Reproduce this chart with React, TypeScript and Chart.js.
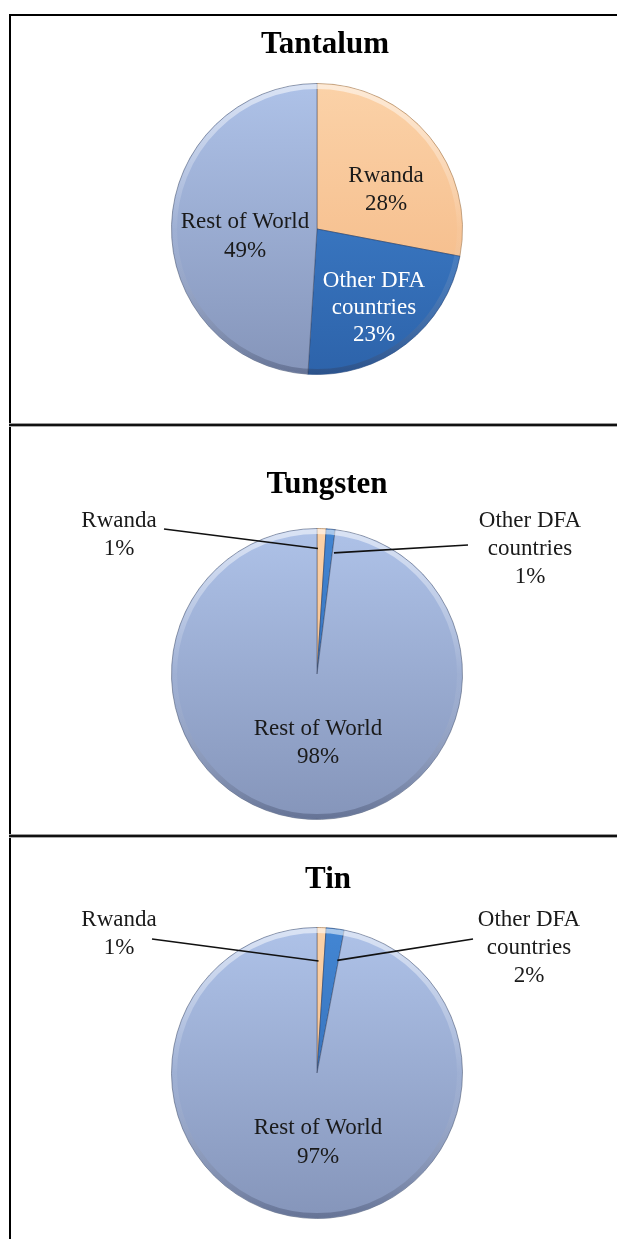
import React, { useEffect, useRef } from 'react';
import { Chart, registerables } from 'chart.js';

Chart.register(...registerables);

// ---- data ----
const CATEGORIES = ['Rwanda', 'Other DFA countries', 'Rest of World'];
const CATEGORY_LINES = [['Rwanda'], ['Other DFA', 'countries'], ['Rest of World']];
const TITLES = ['Tantalum', 'Tungsten', 'Tin'];
const TANTALUM = [28, 23, 49];
const TUNGSTEN = [1, 1, 98];
const TIN = [1, 2, 97];

// ---- styles ----
const FILL_STOPS = [
  ['#FBD2A8', '#F3B47F'],
  ['#4386D3', '#2D63AA'],
  ['#AEC2E8', '#8595BA'],
];
const BORDER_COLORS = ['rgba(150,110,70,0.55)', 'rgba(30,60,110,0.6)', 'rgba(70,82,110,0.55)'];
const TEXT_DARK = '#1a1a1a';
const TITLE_FONT = 'bold 31px "Liberation Serif"';
const LABEL_FONT = '23px "Liberation Serif"';
const W = 617;

type LabelCfg = {
  dx: number; dy: number; lh: number; color: string;
  leader?: { sx: number; sy: number; f: number; edx: number };
};

const PANELS = [
  {
    title: TITLES[0], values: TANTALUM, top: 0, height: 425, padTop: 83, padLeft: 171, padRight: 154,
    titleX: 325, titleBaseline: 53,
    labels: [
      { dx: 69, dy: -47, lh: 28, color: TEXT_DARK },
      { dx: 57, dy: 58, lh: 27, color: '#ffffff' },
      { dx: -72, dy: -1, lh: 29, color: TEXT_DARK },
    ] as LabelCfg[],
  },
  {
    title: TITLES[1], values: TUNGSTEN, top: 425, height: 410, padTop: 103, padLeft: 171, padRight: 154,
    titleX: 327, titleBaseline: 493,
    labels: [
      { dx: -198, dy: -147, lh: 28, color: TEXT_DARK, leader: { sx: -153, sy: -145, f: 0.863, edx: -3 } },
      { dx: 213, dy: -147, lh: 28, color: TEXT_DARK, leader: { sx: 151, sy: -129, f: 0.836, edx: 5.5 } },
      { dx: 1, dy: 61, lh: 28, color: TEXT_DARK },
    ] as LabelCfg[],
  },
  {
    title: TITLES[2], values: TIN, top: 835, height: 404, padTop: 92, padLeft: 171, padRight: 154,
    titleX: 328, titleBaseline: 888,
    labels: [
      { dx: -198, dy: -147, lh: 28, color: TEXT_DARK, leader: { sx: -165, sy: -134, f: 0.77, edx: -2 } },
      { dx: 212, dy: -147, lh: 28, color: TEXT_DARK, leader: { sx: 156, sy: -134, f: 0.78, edx: 6 } },
      { dx: 1, dy: 61, lh: 29, color: TEXT_DARK },
    ] as LabelCfg[],
  },
];

const PIE_SIZE = 292;

function PiePanel({ cfg }: { cfg: typeof PANELS[number] }) {
  const ref = useRef<HTMLCanvasElement | null>(null);

  useEffect(() => {
    const canvas = ref.current;
    if (!canvas) return;
    const padBottom = cfg.height - cfg.padTop - PIE_SIZE;

    const textPlugin = {
      id: 'panelText',
      afterDatasetsDraw(chart: any) {
        const ctx = chart.ctx as CanvasRenderingContext2D;
        const arcs = chart.getDatasetMeta(0).data as any[];
        if (!arcs.length) return;
        const cx = arcs[0].x, cy = arcs[0].y, R = arcs[0].outerRadius;
        // bevel rim
        ctx.save();
        const rim = ctx.createLinearGradient(0, cy - R, 0, cy + R);
        rim.addColorStop(0, 'rgba(255,255,255,0.55)');
        rim.addColorStop(0.5, 'rgba(255,255,255,0.05)');
        rim.addColorStop(1, 'rgba(40,50,80,0.35)');
        ctx.strokeStyle = rim;
        ctx.lineWidth = 5;
        ctx.beginPath();
        ctx.arc(cx, cy, R - 3, 0, Math.PI * 2);
        ctx.stroke();
        ctx.restore();
      },
      afterDraw(chart: any) {
        const ctx = chart.ctx as CanvasRenderingContext2D;
        const arcs = chart.getDatasetMeta(0).data as any[];
        if (!arcs.length) return;
        const cx = arcs[0].x, cy = arcs[0].y, R = arcs[0].outerRadius;
        ctx.save();
        ctx.textAlign = 'center';
        ctx.textBaseline = 'alphabetic';
        ctx.fillStyle = '#000';
        ctx.font = TITLE_FONT;
        ctx.fillText(cfg.title, cfg.titleX, cfg.titleBaseline - cfg.top);

        ctx.font = LABEL_FONT;
        cfg.labels.forEach((lab, i) => {
          const arc = arcs[i];
          if (lab.leader) {
            const mid = (arc.startAngle + arc.endAngle) / 2;
            const ex = cx + Math.cos(mid) * R * lab.leader.f + lab.leader.edx;
            const ey = cy + Math.sin(mid) * R * lab.leader.f;
            ctx.strokeStyle = '#111';
            ctx.lineWidth = 1.6;
            ctx.beginPath();
            ctx.moveTo(cx + lab.leader.sx, cy + lab.leader.sy);
            ctx.lineTo(ex, ey);
            ctx.stroke();
          }
          const lines = [...CATEGORY_LINES[i], `${cfg.values[i]}%`];
          ctx.fillStyle = lab.color;
          lines.forEach((ln, j) => {
            ctx.fillText(ln, cx + lab.dx, cy + lab.dy + j * lab.lh);
          });
        });
        ctx.restore();
      },
    };

    const chart = new Chart(canvas, {
      type: 'pie',
      data: {
        labels: CATEGORIES,
        datasets: [
          {
            data: cfg.values,
            backgroundColor: (c: any) => {
              const stops = FILL_STOPS[c.dataIndex] || FILL_STOPS[2];
              const area = c.chart.chartArea;
              if (!area) return stops[1];
              const g = c.chart.ctx.createLinearGradient(0, area.top, 0, area.bottom);
              g.addColorStop(0, stops[0]);
              g.addColorStop(1, stops[1]);
              return g;
            },
            borderColor: BORDER_COLORS,
            borderWidth: 1,
            hoverOffset: 0,
            offset: 0,
          },
        ],
      },
      options: {
        responsive: false,
        animation: false,
        devicePixelRatio: 1,
        events: [],
        rotation: 0,
        layout: { padding: { top: cfg.padTop, bottom: padBottom, left: cfg.padLeft, right: cfg.padRight } },
        plugins: { legend: { display: false }, tooltip: { enabled: false }, title: { display: false } },
      },
      plugins: [textPlugin],
    });
    return () => chart.destroy();
  }, [cfg]);

  return (
    <canvas
      ref={ref}
      width={W}
      height={cfg.height}
      style={{ position: 'absolute', left: 0, top: cfg.top, width: W, height: cfg.height, display: 'block' }}
    />
  );
}

export default function App() {
  const line = (style: React.CSSProperties) => (
    <div style={{ position: 'absolute', ...style }} />
  );
  return (
    <div style={{ position: 'absolute', left: 0, top: 0, width: W, height: 1239, background: '#fff', overflow: 'hidden' }}>
      {PANELS.map((p) => (
        <PiePanel key={p.title} cfg={p} />
      ))}
      {/* table borders */}
      {line({ left: 9, top: 14, width: W - 9, height: 2, background: '#000' })}
      {line({ left: 9, top: 14, width: 2, height: 1239 - 14, background: '#000' })}
      {line({ left: 9, top: 423, width: W - 9, height: 1, background: '#999' })}
      {line({ left: 9, top: 424, width: W - 9, height: 2, background: '#111' })}
      {line({ left: 9, top: 426, width: W - 9, height: 1, background: '#aaa' })}
      {line({ left: 9, top: 834, width: W - 9, height: 1, background: '#999' })}
      {line({ left: 9, top: 835, width: W - 9, height: 2, background: '#111' })}
      {line({ left: 9, top: 837, width: W - 9, height: 1, background: '#aaa' })}
    </div>
  );
}
